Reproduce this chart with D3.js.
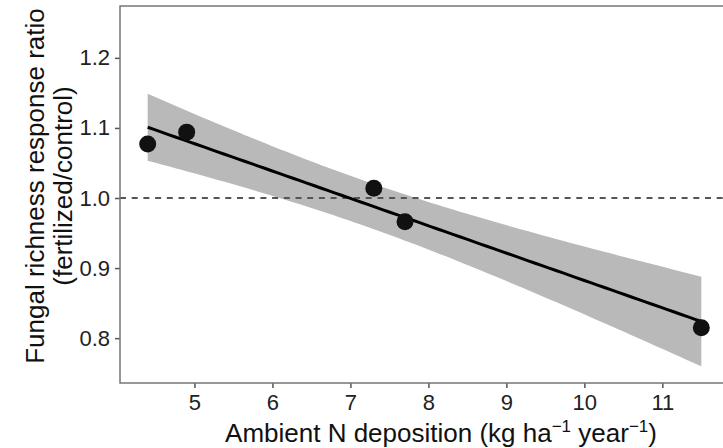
<!DOCTYPE html>
<html>
<head>
<meta charset="utf-8">
<script src="https://cdn.jsdelivr.net/npm/d3@7"></script>
<style>
  body { margin: 0; background: #fff; }
  svg { display: block; font-family: "Liberation Sans", Arial, sans-serif; }
</style>
</head>
<body>
<svg id="chart" width="723" height="448"></svg>
<script>
// Data: one point per site
var deposition = [4.4, 4.9, 7.3, 7.7, 11.5];          // kg ha-1 year-1
var responseRatio = [1.077, 1.094, 1.014, 0.966, 0.815]; // fertilized/control
var xTicks = [5, 6, 7, 8, 9, 10, 11];
var yTicks = [0.8, 0.9, 1.0, 1.1, 1.2];

var svg = d3.select('#chart');
var svgWidth = +svg.attr('width');
var svgHeight = +svg.attr('height');

// panel runs a little past the right edge of the image, like the original
var panel = {l: 120, t: 6, r: 729, b: 383};

var xScale = d3.scaleLinear()
    .domain([4.045, 11.855])
    .range([panel.l, panel.r]);

var yScale = d3.scaleLinear()
    .domain([0.736, 1.274])
    .range([panel.b, panel.t]);

// ordinary least squares fit with 95% confidence band (df = n - 2)
var n = deposition.length;
var meanX = d3.mean(deposition);
var meanY = d3.mean(responseRatio);
var sxx = 0, sxy = 0;
deposition.forEach(function(x, i) {
    sxx += (x - meanX) * (x - meanX);
    sxy += (x - meanX) * (responseRatio[i] - meanY);
});
var slope = sxy / sxx;
var intercept = meanY - slope * meanX;
var sse = 0;
deposition.forEach(function(x, i) {
    var r = responseRatio[i] - (intercept + slope * x);
    sse += r * r;
});
var s = Math.sqrt(sse / (n - 2));
var tCrit = 3.182; // t(0.975, 3)

var xMin = d3.min(deposition), xMax = d3.max(deposition);
var fit = d3.range(0, 81).map(function(k) {
    var x = xMin + (xMax - xMin) * k / 80;
    var yhat = intercept + slope * x;
    var se = s * Math.sqrt(1 / n + (x - meanX) * (x - meanX) / sxx);
    return {x: x, y: yhat, lo: yhat - tCrit * se, hi: yhat + tCrit * se};
});

var plotG = svg.append('g');

// confidence ribbon
plotG.append('path')
    .datum(fit)
    .attr('fill', '#b9b9b9')
    .attr('d', d3.area()
        .x(function(d) { return xScale(d.x); })
        .y0(function(d) { return yScale(d.lo); })
        .y1(function(d) { return yScale(d.hi); }));

// reference line at ratio = 1
plotG.append('line')
    .attr('x1', panel.l).attr('x2', panel.r)
    .attr('y1', yScale(1)).attr('y2', yScale(1))
    .attr('stroke', '#555')
    .attr('stroke-width', 2)
    .attr('stroke-dasharray', '6,5.7');

// fitted line
plotG.append('path')
    .datum(fit)
    .attr('fill', 'none')
    .attr('stroke', '#000')
    .attr('stroke-width', 3)
    .attr('d', d3.line()
        .x(function(d) { return xScale(d.x); })
        .y(function(d) { return yScale(d.y); }));

// points
plotG.selectAll('.pt')
    .data(deposition)
    .enter()
    .append('circle')
    .attr('class', 'pt')
    .attr('cx', function(d) { return xScale(d); })
    .attr('cy', function(d, i) { return yScale(responseRatio[i]); })
    .attr('r', 8.5)
    .attr('fill', '#111');

// axes
var xAxis = svg.append('g')
    .attr('transform', 'translate(0,' + panel.b + ')')
    .call(d3.axisBottom(xScale).tickValues(xTicks).tickSize(5).tickPadding(6).tickFormat(d3.format('d')));

var yAxis = svg.append('g')
    .attr('transform', 'translate(' + panel.l + ',0)')
    .call(d3.axisLeft(yScale).tickValues(yTicks).tickSize(5).tickPadding(5).tickFormat(d3.format('.1f')));

[xAxis, yAxis].forEach(function(ax) {
    ax.select('.domain').remove();
    ax.selectAll('.tick line').attr('stroke', '#555').attr('stroke-width', 1.5);
    ax.selectAll('.tick text')
        .attr('fill', '#222')
        .style('font-size', '22px')
        .style('font-family', '"Liberation Sans", Arial, sans-serif');
});

// panel border: left, bottom, top (right side falls outside the image)
svg.append('path')
    .attr('fill', 'none')
    .attr('stroke', '#777')
    .attr('stroke-width', 1.5)
    .attr('d', 'M' + panel.r + ',' + panel.t + 'H' + panel.l + 'V' + panel.b + 'H' + panel.r);

// axis titles
var xTitle = svg.append('text')
    .attr('x', 441)
    .attr('y', 442)
    .attr('text-anchor', 'middle')
    .attr('fill', '#111')
    .style('font-size', '26px');
xTitle.append('tspan').text('Ambient N deposition (kg ha');
xTitle.append('tspan').attr('dy', -10).style('font-size', '17px').text('\u22121');
xTitle.append('tspan').attr('dy', 10).text(' year');
xTitle.append('tspan').attr('dy', -10).style('font-size', '17px').text('\u22121');
xTitle.append('tspan').attr('dy', 10).text(')');

var yTitle = svg.append('text')
    .attr('transform', 'translate(43.5,186) rotate(-90)')
    .attr('text-anchor', 'middle')
    .attr('fill', '#111')
    .style('font-size', '26px');
yTitle.append('tspan').attr('x', 0).attr('dy', 0).text('Fungal richness response ratio');
yTitle.append('tspan').attr('x', 0).attr('dy', 28).text('(fertilized/control)');
</script>
</body>
</html>
